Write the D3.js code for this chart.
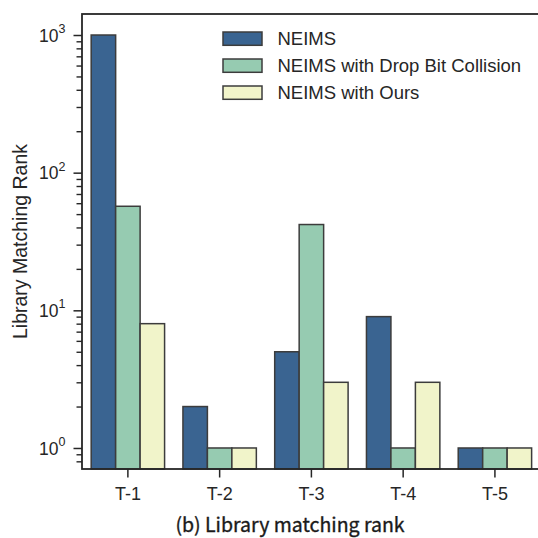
<!DOCTYPE html>
<html>
<head>
<meta charset="utf-8">
<script src="https://cdn.jsdelivr.net/npm/d3@7"></script>
<style>
  html, body { margin: 0; padding: 0; background: #fff; }
  svg { display: block; }
</style>
</head>
<body>
<svg id="chart" width="538" height="538"></svg>
<script>
// ---- data ----
const categories = ["T-1", "T-2", "T-3", "T-4", "T-5"];
const seriesNames = ["NEIMS", "NEIMS with Drop Bit Collision", "NEIMS with Ours"];
const neims = [1000, 2, 5, 9, 1];
const neimsDropBit = [57, 1, 42, 1, 1];
const neimsOurs = [8, 1, 3, 3, 1];
const seriesColors = ["#3a6491", "#96cbb1", "#f1f4ca"];
const yMajorTicks = [1, 10, 100, 1000];
const yTitle = "Library Matching Rank";
const caption = "(b) Library matching rank";

const seriesValues = [neims, neimsDropBit, neimsOurs];

const svg = d3.select("#chart");
const ink = "#262626";
const mLeft = 82, mTop = 14, mBottom = 469, mRight = 540.8;

const x = d3.scaleBand().domain(categories).range([mLeft, mRight]).padding(0);
const groupW = x.bandwidth() * 0.8;
const x1 = d3.scaleBand().domain(d3.range(seriesNames.length)).range([0, groupW]).padding(0);
const y = d3.scaleLog().domain([0.7036, 1421]).range([mBottom, mTop]);

// bars
const g = svg.append("g");
seriesValues.forEach((vals, si) => {
  g.selectAll(null).data(categories).enter().append("rect")
    .attr("x", c => x(c) + (x.bandwidth() - groupW) / 2 + x1(si))
    .attr("y", (c, i) => y(vals[i]))
    .attr("width", x1.bandwidth())
    .attr("height", (c, i) => mBottom - y(vals[i]))
    .attr("fill", seriesColors[si])
    .attr("stroke", "#3c3c3c")
    .attr("stroke-width", 1.5);
});

// frame
svg.append("rect")
  .attr("x", mLeft).attr("y", mTop)
  .attr("width", mRight - mLeft).attr("height", mBottom - mTop)
  .attr("fill", "none").attr("stroke", ink).attr("stroke-width", 1.8);

// y axis minor ticks
const minor = [];
for (let e = -1; e <= 3; e++) for (let m = 2; m <= 9; m++) {
  const v = m * Math.pow(10, e);
  if (v >= y.domain()[0] && v <= y.domain()[1]) minor.push(v);
}
const yMinor = svg.append("g").attr("transform", `translate(${mLeft},0)`)
  .call(d3.axisLeft(y).tickValues(minor).tickSize(5.5).tickSizeOuter(0).tickFormat(""));
yMinor.select(".domain").remove();
yMinor.selectAll("line").attr("stroke", ink).attr("stroke-width", 1.4);

// y axis major ticks
const yAx = svg.append("g").attr("transform", `translate(${mLeft},0)`)
  .call(d3.axisLeft(y).tickValues(yMajorTicks).tickSize(8.5).tickSizeOuter(0).tickPadding(8).tickFormat(""));
yAx.select(".domain").remove();
yAx.selectAll("line").attr("stroke", ink).attr("stroke-width", 1.5);
yAx.selectAll(".tick text").each(function(d) {
  const t = d3.select(this)
    .attr("fill", ink)
    .attr("font-family", "'Liberation Sans', Arial, sans-serif")
    .attr("font-size", 17.5)
    .attr("dy", "0.35em");
  t.append("tspan").text("10");
  t.append("tspan").attr("font-size", 12.5).attr("dy", "-0.7em").text(Math.round(Math.log10(d)));
});

// x axis
const xAx = svg.append("g").attr("transform", `translate(0,${mBottom})`)
  .call(d3.axisBottom(x).tickSize(8.5).tickSizeOuter(0).tickPadding(10));
xAx.select(".domain").remove();
xAx.selectAll("line").attr("stroke", ink).attr("stroke-width", 1.5);
xAx.selectAll("text")
  .attr("fill", ink)
  .attr("font-family", "'Liberation Sans', Arial, sans-serif")
  .attr("font-size", 18);

// y title
svg.append("text")
  .attr("transform", `translate(27,${(mTop + mBottom) / 2}) rotate(-90)`)
  .attr("text-anchor", "middle")
  .attr("fill", ink)
  .attr("font-family", "'Liberation Sans', Arial, sans-serif")
  .attr("font-size", 19.5)
  .text(yTitle);

// legend
const leg = svg.append("g").attr("transform", "translate(223,32)");
seriesNames.forEach((name, i) => {
  const row = leg.append("g").attr("transform", `translate(0,${i * 27})`);
  row.append("rect").attr("width", 39).attr("height", 13.3)
    .attr("fill", seriesColors[i]).attr("stroke", "#3c3c3c").attr("stroke-width", 1.5);
  row.append("text").attr("x", 54.5).attr("y", 6.65).attr("dy", "0.35em")
    .attr("fill", ink)
    .attr("font-family", "'Liberation Sans', Arial, sans-serif")
    .attr("font-size", 18.5)
    .text(name);
});

// caption
svg.append("text")
  .attr("x", 290).attr("y", 532)
  .attr("text-anchor", "middle")
  .attr("fill", "#1a1a1a")
  .attr("stroke", "#1a1a1a")
  .attr("stroke-width", 0.35)
  .attr("font-family", "'Noto Sans CJK SC', 'Noto Sans', sans-serif")
  .attr("font-weight", 400)
  .attr("font-size", 19.5)
  .text(caption);
</script>
</body>
</html>
